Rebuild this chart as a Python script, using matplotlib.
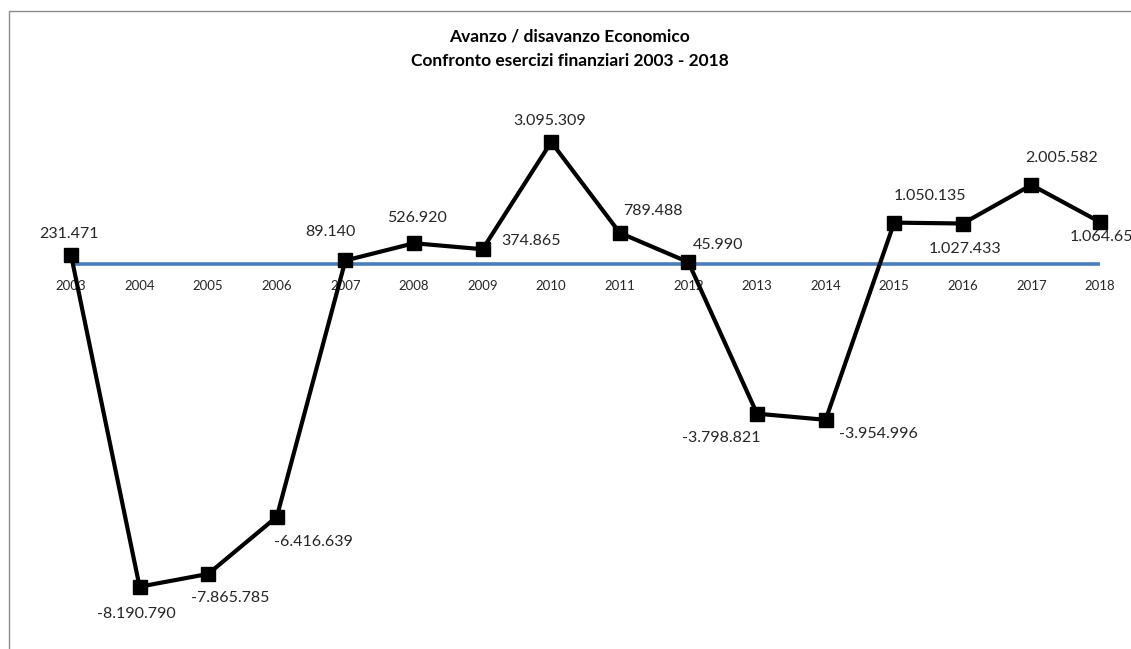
import matplotlib
matplotlib.use("Agg")
import matplotlib.pyplot as plt
from matplotlib.patches import Rectangle

plt.rcParams['font.family'] = ['Lato', 'DejaVu Sans']

years = ["2003", "2004", "2005", "2006", "2007", "2008", "2009", "2010",
         "2011", "2012", "2013", "2014", "2015", "2016", "2017", "2018"]
values = [231471, -8190790, -7865785, -6416639, 89140, 526920, 374865, 3095309,
          789488, 45990, -3798821, -3954996, 1050135, 1027433, 2005582, 1064654]
title_lines = ["Avanzo / disavanzo Economico", "Confronto esercizi finanziari 2003 - 2018"]

# label offsets in pixels (dx, dy with y up)
label_offsets = [(-2, 21), (-3, -27), (22, -24), (37, -25), (-15, 28), (3, 25),
                 (48, 8), (-2, 21), (33, 22), (30, 17), (-36, -24), (53, -14),
                 (36, 27), (2, -25), (30, 27), (6, -15)]

W, H = 1131, 649
fig = plt.figure(figsize=(W / 100, H / 100), dpi=100)

# chart border (left/top visible; right/bottom beyond the image)
fig.patches.append(Rectangle((8.5 / W, -0.1), 1.2, (H - 11.5) / H + 0.1,
                             transform=fig.transFigure, fill=False,
                             edgecolor='#8c8c8c', linewidth=1.0))

x_left, x_right = 71, 1100
y_top, y_bot = 100, 620
zero_px = 264
ax = fig.add_axes([x_left / W, (H - y_bot) / H, (x_right - x_left) / W, (y_bot - y_top) / H])
ax.set_xlim(0, len(years) - 1)
ax.set_ylim(-(y_bot - zero_px) / 39.4 * 1e6, (zero_px - y_top) / 39.4 * 1e6)
ax.patch.set_visible(False)
for s in ['top', 'right', 'left']:
    ax.spines[s].set_visible(False)
ax.spines['bottom'].set_position(('data', 0))
ax.spines['bottom'].set_color('#4a7ebb')
ax.spines['bottom'].set_linewidth(2.6)
ax.spines['bottom'].set_capstyle('butt')
ax.set_yticks([])
xs = list(range(len(years)))
ax.set_xticks(xs)
ax.set_xticklabels(years, fontsize=9.5, color='#262626')
ax.tick_params(axis='x', length=0, pad=11.5)

ax.plot(xs, values, color='black', linewidth=3, marker='s', markersize=9.5,
        markerfacecolor='black', markeredgecolor='black', zorder=5, clip_on=False)

for x, v, (dx, dy) in zip(xs, values, label_offsets):
    txt = f"{v:,}".replace(",", ".")
    ax.annotate(txt, (x, v), xytext=(dx, dy), textcoords='offset pixels',
                ha='center', va='center', fontsize=11.5, color='#262626',
                annotation_clip=False)

fig.text(569.5 / W, 1 - 37 / H, title_lines[0], ha='center', va='center',
         fontsize=12.5, fontweight='bold', color='black')
fig.text(569.5 / W, 1 - 61 / H, title_lines[1], ha='center', va='center',
         fontsize=12.5, fontweight='bold', color='black')

fig.savefig("out.png", dpi=100)
